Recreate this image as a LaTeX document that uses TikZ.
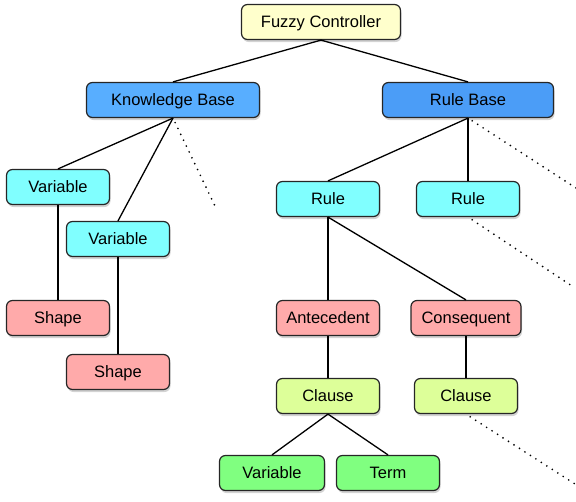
\documentclass[tikz,border=0pt]{standalone}
\usepackage{fontspec}
\setmainfont{Liberation Sans}
\usetikzlibrary{shadows}
\definecolor{ctrlfill}{HTML}{FFFFCC}
\definecolor{kbfill}{HTML}{58AEFF}
\definecolor{rbfill}{HTML}{4B9DF7}
\definecolor{cyanfill}{HTML}{80FFFF}
\definecolor{pinkfill}{HTML}{FFAAAA}
\definecolor{clausefill}{HTML}{DDFF99}
\definecolor{greenfill}{HTML}{80FF80}
\tikzset{
  box/.style={draw=black!85, line width=1.2pt, rounded corners=6pt, minimum height=35pt,
    minimum width=103pt, inner sep=0pt, text height=13pt, text depth=1.5pt,
    drop shadow={opacity=0.35, shadow xshift=1pt, shadow yshift=-2.5pt}},
  link/.style={line width=1.3pt},
  more/.style={line width=1.9pt, dash pattern=on 0pt off 6.5pt, line cap=round, shorten <=5pt}
}
\begin{document}
\begin{tikzpicture}[x=1pt, y=-1pt, font=\fontsize{16.5}{19}\selectfont, line join=round]
\useasboundingbox (0,0) rectangle (576,501);
% top
\node[box, fill=ctrlfill, minimum width=159pt] (fc) at (321,22) {Fuzzy Controller};
\node[box, fill=kbfill, minimum width=173pt] (kb) at (173,100) {Knowledge Base};
\node[box, fill=rbfill, minimum width=171pt] (rb) at (468,100) {Rule Base};
% knowledge base side
\node[box, fill=cyanfill] (var1) at (58,187) {Variable};
\node[box, fill=cyanfill] (var2) at (118,239) {Variable};
\node[box, fill=pinkfill] (shape1) at (58,318) {Shape};
\node[box, fill=pinkfill] (shape2) at (118,372) {Shape};
% rule base side
\node[box, fill=cyanfill] (rule1) at (328,199) {Rule};
\node[box, fill=cyanfill] (rule2) at (468,199) {Rule};
\node[box, fill=pinkfill] (ante) at (328,318) {Antecedent};
\node[box, fill=pinkfill, minimum width=110pt] (cons) at (466,318) {Consequent};
\node[box, fill=clausefill] (clause1) at (328,396) {Clause};
\node[box, fill=clausefill] (clause2) at (466,396) {Clause};
\node[box, fill=greenfill, minimum width=105pt] (var3) at (272,473) {Variable};
\node[box, fill=greenfill] (term) at (388,473) {Term};
% ends of the dotted lines
\coordinate (kb-more) at (215,206);
\coordinate (rb-more) at (576,188);
\coordinate (rule2-more) at (575,288);
\coordinate (clause2-more) at (575,484);
\foreach \a/\b in {fc/kb, fc/rb, kb/var1, kb/var2, var1/shape1, var2/shape2, rb/rule1, rb/rule2,
  rule1/ante, rule1/cons, ante/clause1, cons/clause2, clause1/var3, clause1/term}
  {\draw[link] (\a.south) -- (\b.north);}
\foreach \a in {kb, rb, rule2, clause2}
  {\draw[more] (\a.south) -- (\a-more);}
\end{tikzpicture}
\end{document}
